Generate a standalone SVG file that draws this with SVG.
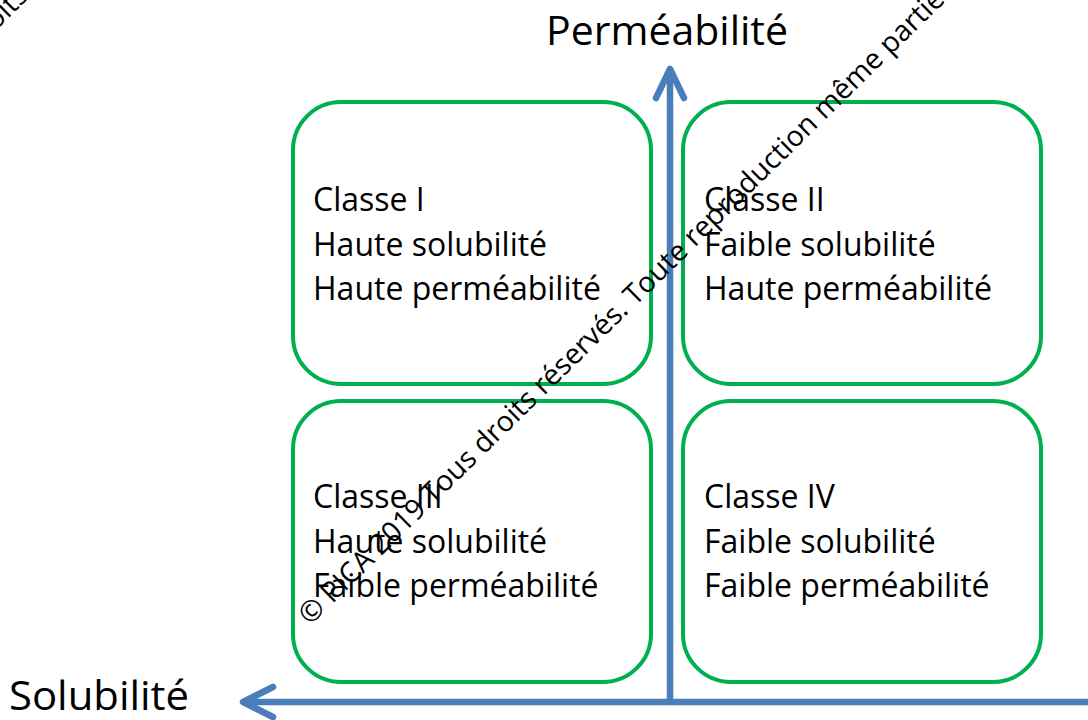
<svg xmlns="http://www.w3.org/2000/svg" width="1088" height="720" viewBox="0 0 1088 720">
  <style>
    .box { fill: none; stroke: #00B050; stroke-width: 4; }
    .lbl { font-family: "Open Sans", "Liberation Sans", sans-serif; font-size: 32px; fill: #000; }
    .axt { font-family: "Open Sans", "Liberation Sans", sans-serif; font-size: 41px; fill: #000; }
    .axis { fill: none; stroke: #4A7EBB; stroke-width: 6.5; stroke-linecap: round; stroke-linejoin: round; }
    .wm { font-family: "Open Sans", "Liberation Sans", sans-serif; font-size: 28.5px; fill: #000; }
  </style>
  <rect width="1088" height="720" fill="#ffffff"/>

  <g id="connectors">
    <line class="axis" x1="670" y1="702" x2="670" y2="72" stroke-linecap="butt"/>
    <polyline class="axis" points="656,98 670,69 684,98"/>
    <line class="axis" x1="244" y1="702" x2="1092" y2="702" stroke-linecap="butt"/>
    <polyline class="axis" points="273,687 243,702 273,717"/>
  </g>

  <g id="axis-permeabilite">
    <text class="axt" x="667" y="45" text-anchor="middle">Perméabilité</text>
  </g>
  <g id="axis-solubilite">
    <text class="axt" x="9" y="710" textLength="180" lengthAdjust="spacingAndGlyphs">Solubilité</text>
  </g>

  <g id="classe1">
    <rect class="box" x="293" y="102" width="358" height="282" rx="48"/>
    <text class="lbl" x="313" y="211">Classe I</text>
    <text class="lbl" x="313" y="256">Haute solubilité</text>
    <text class="lbl" x="313" y="300">Haute perméabilité</text>
  </g>
  <g id="classe2">
    <rect class="box" x="683" y="102" width="358" height="282" rx="48"/>
    <text class="lbl" x="704" y="211">Classe II</text>
    <text class="lbl" x="704" y="256">Faible solubilité</text>
    <text class="lbl" x="704" y="300">Haute perméabilité</text>
  </g>
  <g id="classe3">
    <rect class="box" x="293" y="401" width="358" height="281" rx="48"/>
    <text class="lbl" x="313" y="508">Classe III</text>
    <text class="lbl" x="313" y="553">Haute solubilité</text>
    <text class="lbl" x="313" y="597">Faible perméabilité</text>
  </g>
  <g id="classe4">
    <rect class="box" x="683" y="401" width="358" height="281" rx="48"/>
    <text class="lbl" x="704" y="508">Classe IV</text>
    <text class="lbl" x="704" y="553">Faible solubilité</text>
    <text class="lbl" x="704" y="597">Faible perméabilité</text>
  </g>

  <g id="watermark">
    <text class="wm" transform="translate(310,626) rotate(-44.5)">© PICA 2019 Tous droits réservés. Toute reproduction même partielle</text>
    <text class="wm" transform="translate(-199,222) rotate(-44.5)">© PICA 2019 Tous droits réservés. Toute reproduction même partielle</text>
  </g>
</svg>
